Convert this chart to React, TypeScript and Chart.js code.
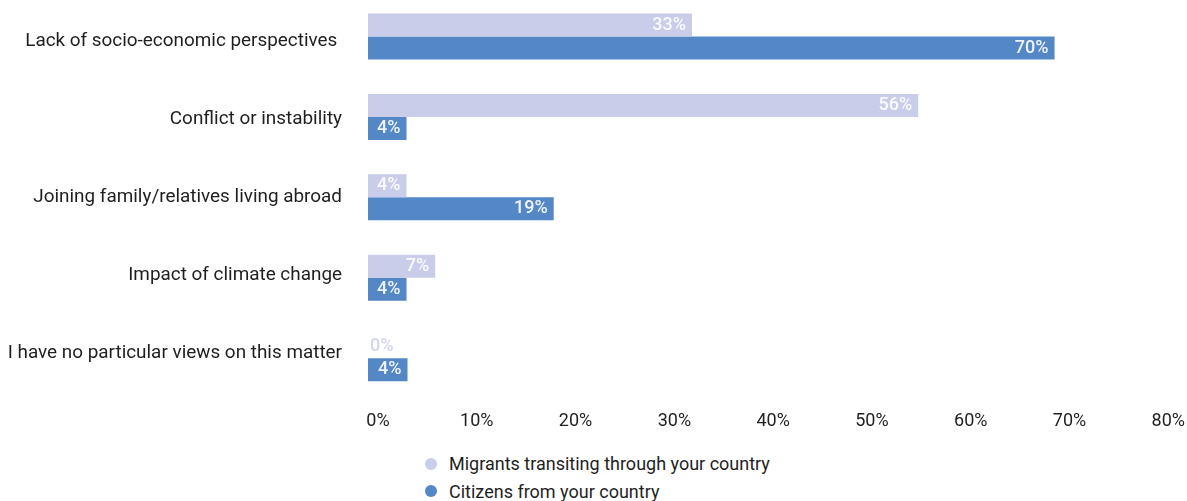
import React, { useEffect, useRef } from "react";
import { Chart, registerables } from "chart.js";

Chart.register(...registerables);

const categories = [
  "Lack of socio-economic perspectives ",
  "Conflict or instability",
  "Joining family/relatives living abroad",
  "Impact of climate change",
  "I have no particular views on this matter",
];
const seriesNames = ["Migrants transiting through your country", "Citizens from your country"];
const migrantsValues = [32.8, 55.7, 3.9, 6.8, 0];
const citizensValues = [69.5, 3.9, 18.8, 3.9, 4.0];
const xTickValues = [0, 10, 20, 30, 40, 50, 60, 70, 80];

const LIGHT = "#c9cde9";
const DARK = "#5487c6";
const TEXT = "#1f1f1f";
const FONT = "Roboto, 'Noto Sans', sans-serif";
const LABEL_AXIS_INSET = 6.25;

const valueLabels = {
  id: "valueLabels",
  afterDatasetsDraw(chart: any) {
    const ctx = chart.ctx;
    ctx.save();
    ctx.font = `500 18px ${FONT}`;
    ctx.textBaseline = "middle";
    chart.data.datasets.forEach((ds: any, di: number) => {
      const meta = chart.getDatasetMeta(di);
      meta.data.forEach((el: any, i: number) => {
        const v = ds.data[i];
        const txt = Math.round(v) + "%";
        const w = ctx.measureText(txt).width;
        const len = el.x - el.base;
        if (len >= w + 10) {
          ctx.fillStyle = "rgba(255,255,255,0.9)";
          ctx.textAlign = "right";
          ctx.fillText(txt, el.x - 6, el.y);
        } else {
          ctx.fillStyle = di === 0 ? "#d3d6ee" : DARK;
          ctx.textAlign = "left";
          ctx.fillText(txt, el.base + 2, el.y);
        }
      });
    });
    ctx.restore();
  },
};

// the category label axis in the reference is slightly tighter than the bar bands
const insetLabelAxis = {
  id: "insetLabelAxis",
  afterLayout(chart: any) {
    const s = chart.scales.yl;
    if (!s) return;
    s.top += LABEL_AXIS_INSET;
    s.bottom -= LABEL_AXIS_INSET;
    s.height = s.bottom - s.top;
    s._labelItems = null;
    s.configure();
  },
};

export default function App() {
  const ref = useRef<HTMLCanvasElement | null>(null);
  useEffect(() => {
    if (!ref.current) return;
    const chart = new Chart(ref.current, {
      type: "bar",
      data: {
        labels: categories,
        datasets: [
          {
            label: seriesNames[0],
            data: migrantsValues,
            backgroundColor: LIGHT,
            categoryPercentage: 0.572,
            barPercentage: 1,
          },
          {
            label: seriesNames[1],
            data: citizensValues,
            backgroundColor: DARK,
            categoryPercentage: 0.572,
            barPercentage: 1,
          },
        ],
      },
      options: {
        indexAxis: "y",
        responsive: true,
        maintainAspectRatio: false,
        animation: false,
        layout: { padding: { left: 8, right: 28, top: 0, bottom: 0 } },
        plugins: { legend: { display: false }, tooltip: { enabled: false } },
        scales: {
          x: {
            min: 0,
            max: 80,
            afterBuildTicks: (scale: any) => {
              scale.ticks = xTickValues.map((v) => ({ value: v }));
            },
            ticks: {
              callback: (v: any) => v + "%",
              font: { family: FONT, size: 18 },
              color: TEXT,
              padding: 12,
              labelOffset: 10,
              maxRotation: 0,
              autoSkip: false,
            },
            grid: { display: false, drawTicks: false },
            border: { display: false },
          },
          y: {
            display: false,
          },
          yl: {
            type: "category",
            position: "left",
            offset: true,
            ticks: {
              font: { family: FONT, size: 18.9 },
              color: TEXT,
              padding: 3,
              autoSkip: false,
            },
            grid: { display: false, drawTicks: true, tickLength: 23 },
            border: { display: false },
            afterFit: (scale: any) => {
              scale.width = 360;
            },
          },
        },
      },
      plugins: [valueLabels, insetLabelAxis],
    });
    return () => chart.destroy();
  }, []);

  return (
    <>
      <div style={{ position: "absolute", left: 0, top: -18.5, width: 1187, height: 462 }}>
        <canvas ref={ref} />
      </div>
      <div
        style={{
          position: "absolute",
          left: 425,
          top: 450,
          fontFamily: FONT,
          fontSize: 18,
          lineHeight: "27.5px",
          color: TEXT,
        }}
      >
        {seriesNames.map((name, i) => (
          <div key={name} style={{ display: "flex", alignItems: "center", whiteSpace: "nowrap" }}>
            <span
              style={{
                display: "inline-block",
                width: 12,
                height: 12,
                borderRadius: "50%",
                background: i === 0 ? LIGHT : DARK,
                marginRight: 12,
              }}
            />
            <span>{name}</span>
          </div>
        ))}
      </div>
    </>
  );
}
